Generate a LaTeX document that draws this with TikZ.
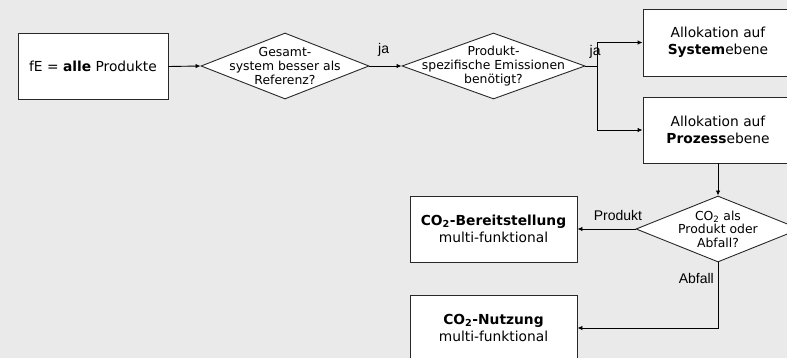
\documentclass[tikz,border=0pt]{standalone}
\usepackage{fontspec}
\setmainfont{DejaVu Sans}
\newfontfamily\labelfont{Liberation Sans}
\usetikzlibrary{shapes.geometric,arrows.meta}
\definecolor{bg}{RGB}{234,234,234}
\definecolor{edge}{RGB}{40,40,40}
\tikzset{
  box/.style={draw=edge,line width=0.9pt,fill=white,rectangle,minimum width=150pt,minimum height=66pt,inner sep=0pt,align=center,font=\fontsize{13.8}{16.8}\selectfont},
  dia/.style={draw=edge,line width=0.9pt,fill=white,diamond,inner sep=0pt},
  diatext/.style={align=center,inner sep=0pt,font=\fontsize{12.4}{13.6}\selectfont},
  conn/.style={line width=0.9pt,draw=black,-{Latex[length=5pt,width=4.5pt]}},
  plain/.style={line width=0.9pt,draw=black},
  lbl/.style={font=\labelfont\fontsize{14}{16}\selectfont,inner sep=0pt}
}
\begin{document}
\begin{tikzpicture}[x=1pt,y=-1pt]
\useasboundingbox (0,0) rectangle (787,358);
\clip (0,0) rectangle (787,358);
\fill[bg] (0,0) rectangle (787,358);

\node[box,minimum width=150pt,minimum height=66pt] (b1) at (93,66.5) {fE = \textbf{alle} Produkte};

\node[dia,minimum width=168pt,minimum height=66pt] (d1) at (285,66) {};
\node[diatext] (d1t) at (d1.center) {Gesamt-\\system besser als\\Referenz?};

\node[dia,minimum width=183pt,minimum height=66pt] (d2) at (493.5,66) {};
\node[diatext] (d2t) at (d2.center) {Produkt-\\spezifische Emissionen\\benötigt?};

\node[box,minimum width=150pt,minimum height=67pt] (sys) at (718,42.5) {Allokation auf\\\textbf{System}ebene};
\node[box,minimum width=150pt,minimum height=66pt] (proz) at (718,130) {Allokation auf\\\textbf{Prozess}ebene};

\node[dia,minimum width=164pt,minimum height=66pt] (d3) at (718,229) {};
\node[diatext] (d3t) at (d3.center) {CO\textsubscript{2} als\\Produkt oder\\Abfall?};

\node[box,minimum width=167pt,minimum height=66pt] (bere) at (493.5,229) {\textbf{CO\textsubscript{2}-Bereitstellung}\\multi-funktional};
\node[box,minimum width=167pt,minimum height=66pt] (nutz) at (493.5,328) {\textbf{CO\textsubscript{2}-Nutzung}\\multi-funktional};

\coordinate (split) at (597,66);

\draw[conn] (b1.east) -- (d1.west);
\draw[conn] (d1.east) -- (d2.west);
\node[lbl,anchor=south west] (ja1) at (378,57) {ja};
\draw[plain] (d2.east) -- (split);
\draw[conn] (split) |- (sys.west);
\draw[conn] (split) |- (proz.west);
\node[lbl,anchor=south west] (ja2) at (589.5,58.5) {ja};
\draw[conn] (proz.south) -- (d3.north);
\draw[conn] (d3.west) -- (bere.east);
\node[lbl,anchor=south] (prod) at (618,220.5) {Produkt};
\draw[conn] (d3.south) |- (nutz.east);
\node[lbl,anchor=east] (abf) at (714,278) {Abfall};
\end{tikzpicture}
\end{document}
